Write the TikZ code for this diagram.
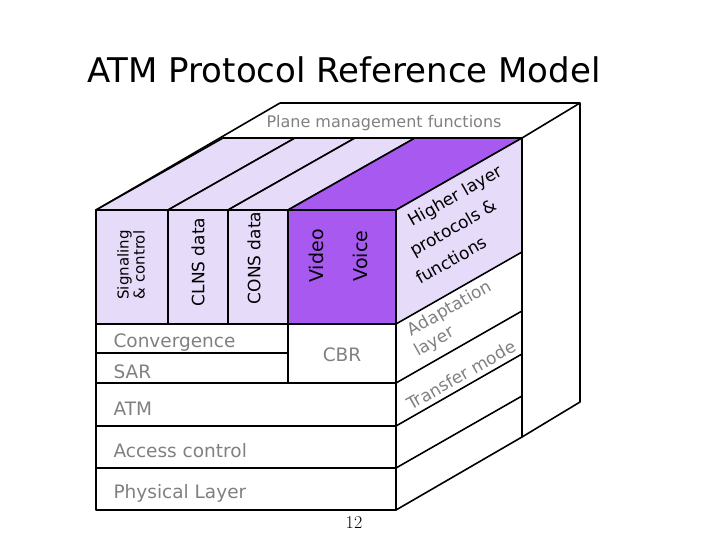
\documentclass[tikz,border=0pt]{standalone}
\usepackage{fontspec}
\setmainfont{DejaVu Sans}
\begin{document}
\begin{tikzpicture}[x=1pt,y=-1pt,
  ln/.style={line width=1.6pt,line join=round},
  lab/.style={font=\fontsize{18.5}{20}\selectfont,text=gray},
  vlab/.style={font=\fontsize{17}{17}\selectfont,rotate=90,align=center},
  slab/.style={font=\fontsize{17}{18}\selectfont,rotate=29.6}]
\definecolor{lav}{RGB}{230,220,250}
\definecolor{pur}{RGB}{168,90,240}
\useasboundingbox (0,0) rectangle (720,540);
\node (title) at (344,70) {\fontsize{34}{36}\selectfont ATM Protocol Reference Model};
% outer plane management box
\draw[ln] (96,210) -- (280,103) -- (580,103) -- (580,402) -- (522,437);
\draw[ln] (522,138) -- (580,103);
\draw[ln] (223,138) -- (522,138);
\node[lab,font=\fontsize{16}{18}\selectfont] (pm) at (384,123) {Plane management functions};
% top face strips
\filldraw[ln,fill=lav] (96,210) -- (223,138) -- (295,138) -- (168,210) -- cycle;
\filldraw[ln,fill=lav] (168,210) -- (295,138) -- (355,138) -- (228,210) -- cycle;
\filldraw[ln,fill=lav] (228,210) -- (355,138) -- (415,138) -- (288,210) -- cycle;
\filldraw[ln,fill=pur] (288,210) -- (415,138) -- (522,138) -- (396,210) -- cycle;
% side face
\filldraw[ln,fill=lav] (396,210) -- (522,138) -- (522,252) -- (396,324) -- cycle;
\draw[ln] (396,324) -- (396,510) -- (522,437) -- (522,252);
\draw[ln] (396,383) -- (522,311);
\draw[ln] (396,426) -- (522,354);
\draw[ln] (396,468) -- (522,396);
% front columns
\filldraw[ln,fill=lav] (96,210) rectangle (168,324);
\filldraw[ln,fill=lav] (168,210) rectangle (228,324);
\filldraw[ln,fill=lav] (228,210) rectangle (288,324);
\filldraw[ln,fill=pur] (288,210) rectangle (396,324);
% front rows
\draw[ln] (96,324) rectangle (288,353);
\draw[ln] (96,353) rectangle (288,383);
\draw[ln] (288,324) rectangle (396,383);
\draw[ln] (96,383) rectangle (396,426);
\draw[ln] (96,426) rectangle (396,468);
\draw[ln] (96,468) rectangle (396,510);
% labels
\node[vlab,font=\fontsize{15}{16}\selectfont] (sig) at (131,265) {Signaling\\\& control};
\node[vlab] (clns) at (198,262) {CLNS data};
\node[vlab] (cons) at (254,258) {CONS data};
\node[vlab,font=\fontsize{19}{20}\selectfont] (video) at (316,256) {Video};
\node[vlab,font=\fontsize{19}{20}\selectfont] (voice) at (360,256) {Voice};
\node[lab,anchor=west] (conv) at (110,343) {Convergence};
\node[lab,anchor=west] (sar) at (110,372) {SAR};
\node[lab] (cbr) at (342,355) {CBR};
\node[lab,anchor=west] (atm) at (110,409) {ATM};
\node[lab,anchor=west] (acc) at (110,451) {Access control};
\node[lab,anchor=west] (phy) at (110,493) {Physical Layer};
\node[slab] (h1) at (456,197) {Higher layer};
\node[slab] (h2) at (454,229) {protocols \&};
\node[slab] (h3) at (451,260) {functions};
\node[slab,text=gray] (a1) at (450,309) {Adaptation};
\node[slab,text=gray] (a2) at (435,342) {layer};
\node[slab,text=gray] (tm) at (461,375) {Transfer mode};
\node[font=\fontfamily{lmr}\selectfont\fontsize{18}{20}\selectfont] (pg) at (354,523) {12};
\end{tikzpicture}
\end{document}
